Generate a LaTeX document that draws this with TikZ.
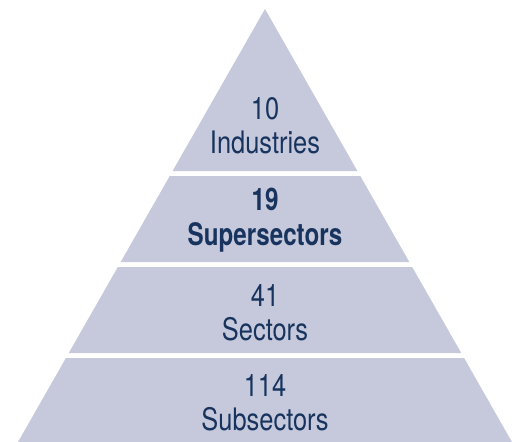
\documentclass[tikz,border=0pt]{standalone}
\usepackage{fontspec}
\setmainfont{TeX Gyre Heros}[FakeStretch=0.82, BoldFeatures={FakeStretch=0.78}]
\definecolor{layerfill}{RGB}{197,201,219}
\definecolor{labelnavy}{RGB}{24,52,94}
\tikzset{
  layer/.style={fill=layerfill, draw=none},
  tier/.style={anchor=base, align=center, text=labelnavy, inner sep=0pt,
    font=\fontsize{31}{34}\selectfont}
}

\begin{document}
\begin{tikzpicture}[x=1pt, y=-1pt]
            \useasboundingbox (0, 0) rectangle (512, 442);

            \fill[layer] (265, 9) -- (357.41, 171) -- (172.59, 171) -- cycle;
            \fill[layer] (169.74, 176) -- (360.26, 176) -- (409.32, 262) -- (120.68, 262) -- cycle;
            \fill[layer] (117.83, 267) -- (412.17, 267) -- (461.23, 353) -- (68.77, 353) -- cycle;
            \fill[layer] (65.92, 358) -- (464.08, 358) -- (512, 442) -- (18, 442) -- cycle;

            % base anchor sits on the second line
            \node[tier] (industries) at (265, 153) {10\\Industries};
            \node[tier, font=\fontsize{31}{35}\selectfont\bfseries] (supersectors) at (265, 245) {19\\Supersectors};
            \node[tier] (sectors) at (265, 340) {41\\Sectors};
            \node[tier] (subsectors) at (265, 430) {114\\Subsectors};
    \end{tikzpicture}
\end{document}
